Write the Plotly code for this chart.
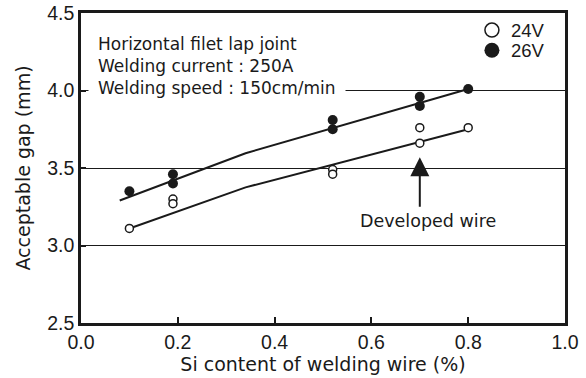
import plotly.graph_objects as go

# Data
si_24v = [0.10, 0.19, 0.19, 0.52, 0.52, 0.70, 0.70, 0.80]
gap_24v = [3.11, 3.30, 3.27, 3.49, 3.46, 3.76, 3.66, 3.76]
si_26v = [0.10, 0.19, 0.19, 0.52, 0.52, 0.70, 0.70, 0.80]
gap_26v = [3.35, 3.46, 3.40, 3.81, 3.75, 3.96, 3.90, 4.01]

fit_26v_x = [0.08, 0.34, 0.80]
fit_26v_y = [3.29, 3.595, 4.01]
fit_24v_x = [0.10, 0.34, 0.80]
fit_24v_y = [3.11, 3.375, 3.75]

x_ticks = [0.0, 0.2, 0.4, 0.6, 0.8, 1.0]
x_ticklabels = ["0.0", "0.2", "0.4", "0.6", "0.8", "1.0"]
y_ticks = [2.5, 3.0, 3.5, 4.0, 4.5]
y_ticklabels = ["2.5", "3.0", "3.5", "4.0", "4.5"]

legend_names = ["24V", "26V"]

TEXT_FONT = "DejaVu Sans"
NUM_FONT = "Liberation Sans"
INK = "#1a1a1a"

fig = go.Figure()

fig.add_trace(go.Scatter(x=fit_26v_x, y=fit_26v_y, mode="lines",
                         line=dict(color=INK, width=2), showlegend=False, hoverinfo="skip"))
fig.add_trace(go.Scatter(x=fit_24v_x, y=fit_24v_y, mode="lines",
                         line=dict(color=INK, width=2), showlegend=False, hoverinfo="skip"))

fig.add_trace(go.Scatter(x=si_24v, y=gap_24v, mode="markers", name=legend_names[0], showlegend=False,
                         marker=dict(symbol="circle", size=8, color="white",
                                     line=dict(color=INK, width=1.5))))
fig.add_trace(go.Scatter(x=si_26v, y=gap_26v, mode="markers", name=legend_names[1], showlegend=False,
                         marker=dict(symbol="circle", size=10, color=INK,
                                     line=dict(color=INK, width=0))))

# legend (top right, inside the plot)
fig.add_trace(go.Scatter(x=[0.849], y=[4.39], mode="markers", showlegend=False, hoverinfo="skip",
                         marker=dict(symbol="circle", size=14, color="white",
                                     line=dict(color=INK, width=1.5))))
fig.add_trace(go.Scatter(x=[0.849], y=[4.26], mode="markers", showlegend=False, hoverinfo="skip",
                         marker=dict(symbol="circle", size=15, color=INK)))
for nm, yy in zip(legend_names, [4.39, 4.26]):
    fig.add_annotation(x=0.884, y=yy, xref="x", yref="y", xanchor="left", yanchor="middle",
                       showarrow=False, text=nm,
                       font=dict(family=NUM_FONT, size=18.5, color=INK))

fig.add_annotation(x=0.0145, y=4.155, xref="x", yref="y", xanchor="left", yanchor="middle",
                   align="left", showarrow=False, bgcolor="white", borderpad=9,
                   text="Horizontal filet lap joint<br>Welding current : 250A<br>Welding speed : 150cm/min",
                   font=dict(family=TEXT_FONT, size=17, color=INK))

fig.add_annotation(x=0.70, y=3.57, xref="x", yref="y", ax=0.70, ay=3.24,
                   axref="x", ayref="y", text="", showarrow=True,
                   arrowhead=2, arrowsize=1.9, arrowwidth=2, arrowcolor=INK)
fig.add_annotation(x=0.716, y=3.16, xref="x", yref="y", showarrow=False,
                   text="Developed wire", font=dict(family=TEXT_FONT, size=17.5, color=INK))

fig.update_layout(
    width=586, height=378,
    margin=dict(l=81, r=21, t=13, b=55),
    paper_bgcolor="white", plot_bgcolor="white",
    font=dict(family=TEXT_FONT, size=16, color=INK),
    showlegend=False,
)

fig.update_xaxes(range=[0, 1.0], tickvals=x_ticks, ticktext=x_ticklabels,
                 showline=True, mirror=True, linewidth=2.5, linecolor=INK,
                 ticks="inside", ticklen=6, tickwidth=1.5, tickcolor=INK,
                 showgrid=False, zeroline=False, automargin=False,
                 title=dict(text="Si content of welding wire (%)", standoff=6,
                            font=dict(family=TEXT_FONT, size=19, color=INK)),
                 tickfont=dict(family=NUM_FONT, size=19.5, color=INK))
fig.update_yaxes(range=[2.5, 4.5], tickvals=y_ticks, ticktext=y_ticklabels,
                 showline=True, mirror=True, linewidth=2.5, linecolor=INK,
                 ticks="inside", ticklen=5, tickwidth=1.5, tickcolor=INK,
                 showgrid=True, gridcolor=INK, gridwidth=1.3, zeroline=False, automargin=False,
                 title=dict(text="Acceptable gap (mm)", standoff=12,
                            font=dict(family=TEXT_FONT, size=19, color=INK)),
                 tickfont=dict(family=NUM_FONT, size=19.5, color=INK))

fig.write_html("out.html")
